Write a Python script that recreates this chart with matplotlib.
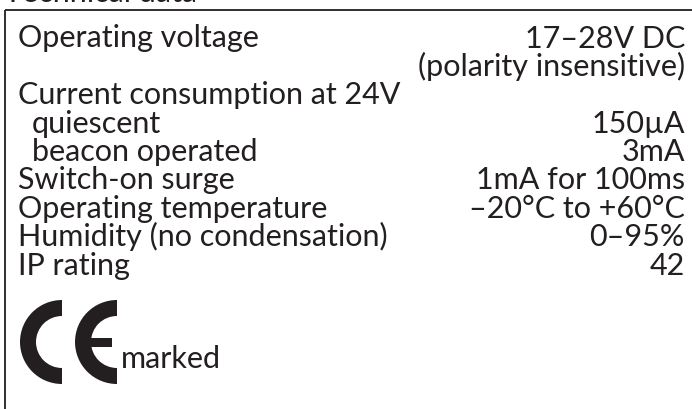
import matplotlib
matplotlib.use("Agg")
import matplotlib.pyplot as plt
from matplotlib.patches import Wedge, Rectangle

plt.rcParams["font.family"] = ["Lato", "DejaVu Sans"]

# --- table content ---
labels = ["Operating voltage", "", "Current consumption at 24V", "quiescent",
          "beacon operated", "Switch-on surge", "Operating temperature",
          "Humidity (no condensation)", "IP rating"]
values = ["17–28V DC", "(polarity insensitive)", "", "150µA", "3mA",
          "1mA for 100ms", "–20°C to +60°C", "0–95%", "42"]
indent = [0, 0, 0, 1, 1, 0, 0, 0, 0]
title = "Technical data"
ce_note = "marked"

W, H = 692, 410
INK = "#231f20"
FS = 22

fig = plt.figure(figsize=(W / 100, H / 100), dpi=100)
ax = fig.add_axes([0, 0, 1, 1])
ax.set_xlim(0, W)
ax.set_ylim(H, 0)
ax.axis("off")

# title, almost entirely cut off by the top edge
ax.text(4, 2.5, title, fontsize=FS, color=INK, va="baseline", ha="left")

# box: top and left rules only
ax.plot([5, W], [10.5, 10.5], color=INK, lw=1.3, solid_capstyle="butt")
ax.plot([5, 5], [10.5, H], color=INK, lw=1.3, solid_capstyle="butt")

y0, dy = 47.5, 28.4
for i, (lab, val, ind) in enumerate(zip(labels, values, indent)):
    y = y0 + i * dy
    if lab:
        ax.text(18 + 14 * ind, y, lab, fontsize=FS, color=INK, va="baseline", ha="left")
    if val:
        ax.text(685, y, val, fontsize=FS, color=INK, va="baseline", ha="right")

# CE mark drawn from two thick half rings
cy, R, t = 343, 42, 16
for cx in (62, 117):
    ax.add_patch(Wedge((cx, cy), R, 90, 270, width=t, color=INK, lw=0))
ax.add_patch(Rectangle((117 - R + 5, cy - 4.5), R - 10, 9, color=INK, lw=0))
ax.text(121, 368, ce_note, fontsize=FS, color=INK, va="baseline", ha="left")

fig.savefig("out.png", dpi=100, facecolor="white")
